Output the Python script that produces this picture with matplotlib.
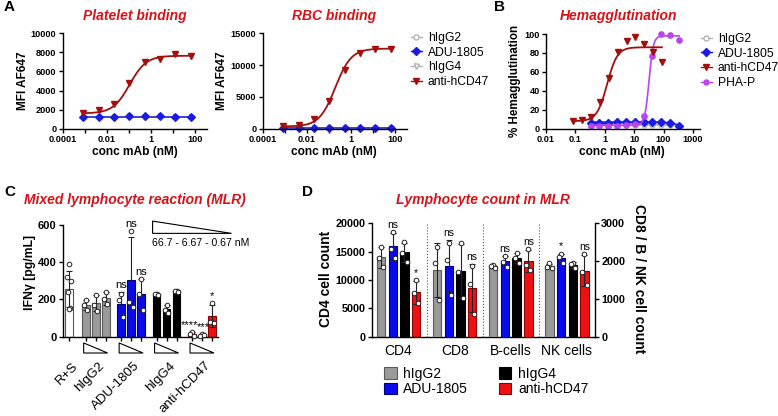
import numpy as np
import matplotlib
matplotlib.use("Agg")
import matplotlib.pyplot as plt
from matplotlib.lines import Line2D
from matplotlib.patches import Patch, Polygon
import matplotlib.transforms as mtransforms

plt.rcParams["font.family"] = ["Liberation Sans", "DejaVu Sans"]

W, H = 778, 416

# ---- A: platelet / RBC binding (MFI) ----
conc_a = [0.000853, 0.00427, 0.0213, 0.107, 0.533, 2.67, 13.3, 66.7]
plt_higg2 = [1240, 1220, 1260, 1300, 1270, 1310, 1240, 1260]
plt_adu = [1200, 1180, 1230, 1350, 1280, 1330, 1220, 1250]
plt_higg4 = [1250, 1230, 1250, 1290, 1260, 1300, 1250, 1270]
plt_cd47 = [1680, 1960, 2550, 4750, 7030, 7270, 7870, 7660]
rbc_higg2 = [170, 160, 150, 160, 170, 150, 160, 170]
rbc_adu = [160, 150, 150, 160, 160, 150, 160, 160]
rbc_higg4 = [180, 170, 160, 160, 170, 160, 170, 160]
rbc_cd47 = [420, 630, 1470, 4350, 9230, 11850, 12590, 12480]
# 4PL fit estimates: bottom, top, EC50, hill
plt_cd47_fit = (1600, 7650, 0.11, 1.15)
rbc_cd47_fit = (350, 12600, 0.2, 1.2)

# ---- B: hemagglutination (%) ----
conc_b_cd47 = [0.086, 0.17, 0.34, 0.69, 1.4, 2.75, 5.5, 11, 22, 44, 88]
hem_cd47 = [8, 9, 12, 28, 54, 81, 93, 97, 89, 81, 70]
conc_b = [0.33, 0.66, 1.3, 2.7, 5.3, 10.6, 21, 42, 85, 170, 340]
hem_higg2 = [3.5, 3.5, 3.5, 4, 3.5, 3.5, 3.5, 3.5, 3.5, 3.5, 3]
hem_adu = [6.5, 6.5, 6.5, 7, 7, 7.5, 7, 7.5, 7, 6, 3]
hem_pha = [3, 3, 3, 3, 3.5, 4.5, 13, 77, 100, 99, 94]
hem_cd47_fit = (8, 86, 1.2, 2.5)
hem_pha_fit = (3.5, 98, 32, 6)
hem_adu_fit = (0, 7, 350, -2.5)

# ---- C: MLR IFNg (pg/mL), 66.7 / 6.67 / 0.67 nM ----
mlr_labels = ["R+S", "hIgG2", "ADU-1805", "hIgG4", "anti-hCD47"]
mlr_rs = [389, 322, 300, 240, 152, 148]
mlr_higg2 = [[197, 170, 143], [225, 172, 140], [240, 205, 173]]
mlr_adu = [[229, 197, 107], [568, 184, 161], [310, 229, 143]]
mlr_higg4 = [[232, 228, 226], [172, 143, 126], [248, 247, 238]]
mlr_cd47 = [[23, 13, 5], [14, 5, 10], [179, 81, 72]]
mlr_stats = [[None, None, None], ["ns", "ns", "ns"], [None, None, None], ["****", "***", "*"]]

# ---- D: lymphocyte counts ----
lym_cells = ["CD4", "CD8", "B-cells", "NK cells"]
lym_treat = ["hIgG2", "ADU-1805", "hIgG4", "anti-hCD47"]
lym_cd4 = [[15880, 13820, 12240], [18530, 15470, 13820], [16650, 14700, 13240], [10000, 7650, 5880]]
lym_cd8 = [[2382, 1941, 971], [2470, 2029, 1103], [2470, 1712, 1032], [1879, 1385, 600]]
lym_b = [[1900, 1860, 1820], [2144, 1985, 1853], [2206, 2074, 1959], [2321, 1897, 1765]]
lym_nk = [[1941, 1853, 1826], [2179, 2118, 1959], [1959, 1915, 1809], [2179, 1703, 1368]]
lym_stats = [[None, "ns", None, "*"], [None, "ns", None, "ns"],
             [None, "ns", None, "ns"], [None, "*", None, "ns"]]

TITLE_RED = "#d51317"
GREY = "#b3b3b3"
BLUE = "#1c1ce0"
DRED = "#a30e0e"
PURPLE = "#bb44ee"
BAR_COLORS = [("#9a9a9a", "#5a5a5a"), ("#0a0aee", "#00007a"),
              ("#000000", "#000000"), ("#ee1111", "#8a0000")]
JITTER = [0.0, -0.18, 0.18, -0.09, 0.09, 0.0]


def four_pl(x, bottom, top, ec50, hill):
    x = np.asarray(x, dtype=float)
    return bottom + (top - bottom) / (1.0 + (ec50 / x) ** hill)


fig = plt.figure(figsize=(W / 100, H / 100), dpi=100)


def axes_px(left, top, right, bottom):
    return fig.add_axes([left / W, 1 - bottom / H, (right - left) / W, (bottom - top) / H])


def ftext(x, y, s, **kw):
    fig.text(x / W, 1 - y / H, s, ha=kw.pop("ha", "center"), va=kw.pop("va", "center"), **kw)


def style_axes(ax, size, bold=True):
    for side in ("top", "right"):
        ax.spines[side].set_visible(False)
    for side in ("left", "bottom"):
        ax.spines[side].set_linewidth(1.0)
    ax.tick_params(direction="out", length=3, width=1.0, labelsize=size, pad=1.5)
    if bold:
        for lab in ax.get_xticklabels() + ax.get_yticklabels():
            lab.set_fontweight("bold")


def draw_binding(ax, higg2, adu, higg4, cd47, fit, ymax, ystep):
    ax.set_xscale("log")
    for vals, col, mk, mfc in [(higg2, GREY, "o", "white"), (higg4, GREY, "v", "white"),
                               (adu, BLUE, "D", BLUE)]:
        ax.plot([conc_a[0], conc_a[-1]], [np.mean(vals)] * 2, color=col, lw=1.3, alpha=0.8)
        ax.plot(conc_a, vals, ls="none", marker=mk, ms=3.6, mfc=mfc, mec=col, mew=0.8,
                clip_on=False)
    xf = np.logspace(np.log10(conc_a[0]), np.log10(conc_a[-1]), 200)
    ax.plot(xf, four_pl(xf, *fit), color=DRED, lw=1.3)
    ax.plot(conc_a, cd47, ls="none", marker="v", ms=4.5, color=DRED, clip_on=False)
    ax.set_xlim(1e-4, 10 ** 2.56)
    ax.set_ylim(0, ymax)
    decades = [1e-4, 1e-3, 1e-2, 1e-1, 1, 10, 100]
    ax.set_xticks(decades, ["0.0001", "", "0.01", "", "1", "", "100"])
    ax.xaxis.set_minor_locator(matplotlib.ticker.NullLocator())
    ax.set_yticks(np.arange(0, ymax + 1, ystep))
    style_axes(ax, 6.6)


ax_plt = axes_px(62.7, 33.3, 207, 128.7)
ax_rbc = axes_px(262.7, 33.3, 407, 128.7)
draw_binding(ax_plt, plt_higg2, plt_adu, plt_higg4, plt_cd47, plt_cd47_fit, 10000, 2000)
draw_binding(ax_rbc, rbc_higg2, rbc_adu, rbc_higg4, rbc_cd47, rbc_cd47_fit, 15000, 5000)

for x in (23, 222):
    ftext(x, 81, "MFI AF647", rotation=90, fontsize=8.6, fontweight="bold")
ftext(135, 152, "conc mAb (nM)", fontsize=8.6, fontweight="bold")
ftext(334, 152, "conc mAb (nM)", fontsize=8.6, fontweight="bold")
ftext(135, 16, "Platelet binding", fontsize=10, fontweight="bold", style="italic", color=TITLE_RED)
ftext(334, 16, "RBC binding", fontsize=10, fontweight="bold", style="italic", color=TITLE_RED)

leg_a = [
    Line2D([0], [0], color=GREY, lw=1.0, marker="o", ms=3.6, mfc="white", mec=GREY),
    Line2D([0], [0], color=BLUE, lw=1.0, marker="D", ms=3.6, mfc=BLUE, mec=BLUE),
    Line2D([0], [0], color=GREY, lw=1.0, marker="v", ms=3.6, mfc="white", mec=GREY),
    Line2D([0], [0], color=DRED, lw=1.0, marker="v", ms=4.2, mfc=DRED, mec=DRED),
]
fig.legend(leg_a, ["hIgG2", "ADU-1805", "hIgG4", "anti-hCD47"], loc="upper left",
           bbox_to_anchor=(411 / W, 1 - 32 / H), frameon=False, fontsize=8.7,
           handlelength=0.9, handletextpad=0.5, labelspacing=0.22, borderpad=0,
           borderaxespad=0)

# ---- B ----
ax_hem = axes_px(546, 34, 700, 128.7)
ax_hem.set_xscale("log")
ax_hem.plot([conc_b[0], conc_b[-1]], [np.mean(hem_higg2)] * 2, color=GREY, lw=1.2)
ax_hem.plot(conc_b, hem_higg2, ls="none", marker="o", ms=3.6, mfc="white", mec=GREY, mew=0.8)
xf = np.logspace(np.log10(conc_b[0]), np.log10(conc_b[-1]), 300)
ax_hem.plot(xf, four_pl(xf, *hem_adu_fit), color=BLUE, lw=1.2)
ax_hem.plot(conc_b, hem_adu, ls="none", marker="D", ms=3.6, color=BLUE)
ax_hem.plot(xf, four_pl(xf, *hem_pha_fit), color=PURPLE, lw=1.2)
ax_hem.plot(conc_b, hem_pha, ls="none", marker="o", ms=3.8, color=PURPLE, clip_on=False)
xf = np.logspace(np.log10(conc_b_cd47[0]), np.log10(conc_b_cd47[-1]), 300)
ax_hem.plot(xf, four_pl(xf, *hem_cd47_fit), color=DRED, lw=1.3)
ax_hem.plot(conc_b_cd47, hem_cd47, ls="none", marker="v", ms=4.5, color=DRED, clip_on=False)
ax_hem.set_xlim(0.01, 10 ** 3.24)
ax_hem.set_ylim(0, 100)
ax_hem.set_xticks([0.01, 0.1, 1, 10, 100, 1000], ["0.01", "0.1", "1", "10", "100", "1000"])
ax_hem.xaxis.set_minor_locator(matplotlib.ticker.NullLocator())
ax_hem.set_yticks(range(0, 101, 20))
style_axes(ax_hem, 6.6)
ftext(515, 81, "% Hemagglutination", rotation=90, fontsize=8.4, fontweight="bold")
ftext(622, 152, "conc mAb (nM)", fontsize=8.6, fontweight="bold")
ftext(619, 16, "Hemagglutination", fontsize=10, fontweight="bold", style="italic", color=TITLE_RED)

leg_b = [
    Line2D([0], [0], color=GREY, lw=1.0, marker="o", ms=3.6, mfc="white", mec=GREY),
    Line2D([0], [0], color=BLUE, lw=1.0, marker="D", ms=3.6, mfc=BLUE, mec=BLUE),
    Line2D([0], [0], color=DRED, lw=1.0, marker="v", ms=4.2, mfc=DRED, mec=DRED),
    Line2D([0], [0], color=PURPLE, lw=1.0, marker="o", ms=3.6, mfc=PURPLE, mec=PURPLE),
]
fig.legend(leg_b, ["hIgG2", "ADU-1805", "anti-hCD47", "PHA-P"], loc="upper left",
           bbox_to_anchor=(701 / W, 1 - 33 / H), frameon=False, fontsize=8.7,
           handlelength=0.9, handletextpad=0.5, labelspacing=0.22, borderpad=0,
           borderaxespad=0)


def bar_points(ax, x, pts, fc, ec, width, stat=None, stat_size=7.5, stat_dx=0.0):
    m = np.mean(pts)
    sd = np.std(pts, ddof=1)
    ax.bar(x, m, width=width, color=fc, edgecolor=ec, linewidth=0.8, zorder=2)
    ax.errorbar(x, m, yerr=sd, fmt="none", ecolor="#222222", elinewidth=0.8,
                capsize=2, capthick=0.8, zorder=3)
    ax.plot(x + np.array(JITTER[:len(pts)]), pts, ls="none", marker="o", ms=3.3,
            mfc="white", mec="#222222", mew=0.7, zorder=4, clip_on=False)
    if stat:
        ax.annotate(stat, (x, max(m + sd, max(pts))), xytext=(stat_dx, 1.5),
                    textcoords="offset points", ha="center", va="bottom",
                    fontsize=stat_size, zorder=5)


# ---- C ----
ax_mlr = axes_px(62.7, 225, 218, 336.7)
bar_points(ax_mlr, 0.0, mlr_rs, "white", "#555555", 0.78)
mlr_sets = [mlr_higg2, mlr_adu, mlr_higg4, mlr_cd47]
group_x = []
bar_x = [0.0]
for k, sets in enumerate(mlr_sets):
    start = 1.65 + 3.55 * k
    fc, ec = BAR_COLORS[k]
    for j, pts in enumerate(sets):
        dx = -2.0 if mlr_stats[k][j] == "****" else (1.0 if mlr_stats[k][j] == "***" else 0.0)
        bar_points(ax_mlr, start + j, pts, fc, ec, 0.78, mlr_stats[k][j], 8, dx)
        bar_x.append(start + j)
    group_x.append(start + 1)
ax_mlr.set_xlim(-0.65, 14.9)
ax_mlr.set_ylim(0, 600)
ax_mlr.set_yticks([0, 200, 400, 600])
ax_mlr.set_xticks(bar_x, [""] * len(bar_x))
style_axes(ax_mlr, 8)

# dilution triangles
tri_tf = mtransforms.blended_transform_factory(ax_mlr.transData, ax_mlr.transAxes)
for gx in group_x:
    ax_mlr.add_patch(Polygon([(gx - 1.2, -0.056), (gx - 1.2, -0.146), (gx + 1.2, -0.146)],
                             closed=True, fill=False, lw=0.8, ec="black",
                             transform=tri_tf, clip_on=False))
for x, lab in zip([0.0] + group_x, mlr_labels):
    ax_mlr.text(x + 0.25, -0.205, lab, transform=tri_tf, rotation=45, ha="right", va="top",
                rotation_mode="anchor", fontsize=9.5)
ax_mlr.add_patch(Polygon([(8.35, 621), (8.35, 555), (16.25, 555)], closed=True, fill=False,
                         lw=0.8, ec="black", clip_on=False))
ax_mlr.text(8.25, 502, "66.7 - 6.67 - 0.67 nM", ha="left", va="center", fontsize=7.6)
ftext(30, 272, "IFN\u03b3 [pg/mL]", rotation=90, fontsize=8.8, fontweight="bold")
ftext(135, 200, "Mixed lymphocyte reaction (MLR)", fontsize=10, fontweight="bold",
      style="italic", color=TITLE_RED)

# ---- D ----
ax_lym = axes_px(371.7, 223.3, 595, 336.7)
ax_r = ax_lym.twinx()
ax_r.set_position(ax_lym.get_position())
lym_sets = [lym_cd4, lym_cd8, lym_b, lym_nk]
for g, sets in enumerate(lym_sets):
    target = ax_lym if g == 0 else ax_r
    for j, pts in enumerate(sets):
        fc, ec = BAR_COLORS[j]
        bar_points(target, g * 4.8 + j, pts, fc, ec, 0.72, lym_stats[g][j], 7.5)
for g in range(3):
    ax_lym.axvline(g * 4.8 + 3.9, color="#555555", ls=":", lw=0.8, zorder=1)
ax_lym.set_xlim(-0.8, 18.3)
ax_lym.set_ylim(0, 20000)
ax_r.set_ylim(0, 3000)
ax_lym.set_yticks(range(0, 20001, 5000))
ax_r.set_yticks(range(0, 3001, 1000))
ax_lym.set_xticks([g * 4.8 + 1.5 for g in range(4)], lym_cells)
style_axes(ax_lym, 7.8)
ax_lym.tick_params(axis="x", length=0, labelsize=10, pad=5)
for lab in ax_lym.get_xticklabels():
    lab.set_fontweight("normal")
for side in ("top", "left", "bottom"):
    ax_r.spines[side].set_visible(False)
ax_r.spines["right"].set_linewidth(1.0)
ax_r.tick_params(direction="out", length=3, width=1.0, labelsize=7.8, pad=1.5)
for lab in ax_r.get_yticklabels():
    lab.set_fontweight("bold")
ftext(326, 279, "CD4 cell count", rotation=90, fontsize=10, fontweight="bold")
ftext(639, 279, "CD8 / B / NK cell count", rotation=-90, fontsize=10, fontweight="bold")
ftext(483, 200, "Lymphocyte count in MLR", fontsize=10, fontweight="bold",
      style="italic", color=TITLE_RED)

leg_d = [Patch(facecolor=fc, edgecolor=ec, lw=0.8) for fc, ec in BAR_COLORS]
fig.legend(leg_d, lym_treat, loc="upper left", bbox_to_anchor=(384 / W, 1 - 367 / H),
           ncol=2, frameon=False, fontsize=10, handlelength=0.9, handleheight=0.9,
           handletextpad=0.5, labelspacing=0.1, columnspacing=2.2, borderpad=0,
           borderaxespad=0)

for x, y, s in [(4, 7, "A"), (494, 7, "B"), (4, 192, "C"), (302, 192, "D")]:
    ftext(x, y, s, ha="left", fontsize=11, fontweight="bold")

fig.savefig("out.png", dpi=100)
